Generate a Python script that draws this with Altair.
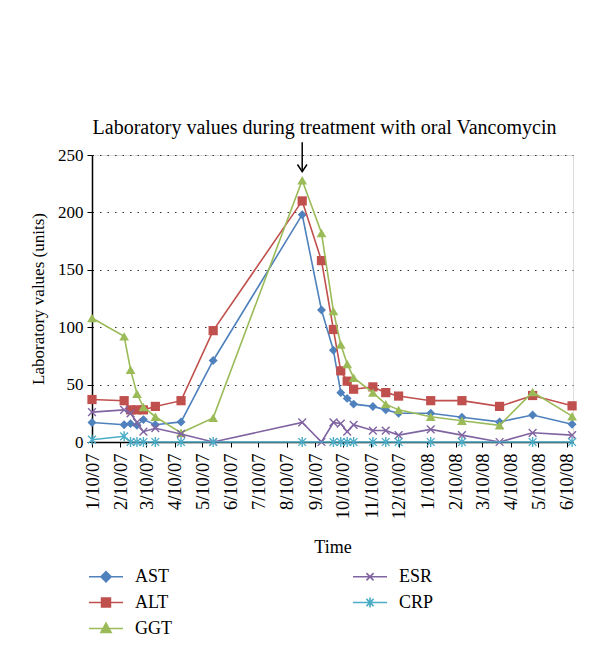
import altair as alt
import pandas as pd

# ---------------- data ----------------
dates = ["2007-01-10", "2007-02-14", "2007-02-21", "2007-02-28", "2007-03-07",
         "2007-03-20", "2007-04-17", "2007-05-22", "2007-08-27", "2007-09-17",
         "2007-09-30", "2007-10-08", "2007-10-15", "2007-10-22", "2007-11-12",
         "2007-11-26", "2007-12-10", "2008-01-14", "2008-02-17", "2008-03-29",
         "2008-05-04", "2008-06-16"]

ast = [17, 15, 16, 14.5, 19.5, 15, 17.5, 71, 198, 115, 80, 43, 38, 33, 31, 28, 25, 25, 21.5, 17.5, 23.5, 15.5]
alt_v = [37, 36, 28, 28, 28, 31, 36, 97, 210, 158, 98, 62, 53, 46, 48, 43, 40, 36, 36, 31, 40.5, 31.5]
ggt = [108, 92, 63, 42, 30.5, 22, 8, 21, 228, 182, 114, 85, 68, 56, 43, 33, 28, 22, 18.5, 14.5, 43.5, 22.5]
esr = [26, 28, 25, 17, 9, 12, 7, 0, 17, 0, 17, 16, 9, 15, 10, 10, 6, 11, 6, 0, 8, 6]
crp = [2, 5, 0, 0, 0, 0, 0, 0, 0, None, 0, 0, 0, 0, 0, 0, 0, 0, 0, None, 0, 0]

series_names = ["AST", "ALT", "GGT", "ESR", "CRP"]
series_values = [ast, alt_v, ggt, esr, crp]
series_colors = ["#4F81BD", "#C0504D", "#9BBB59", "#8064A2", "#4BACC6"]

y_ticks = [0, 50, 100, 150, 200, 250]
tick_months = [(2007, m) for m in range(1, 13)] + [(2008, m) for m in range(1, 7)]

title_text = "Laboratory values during treatment with oral Vancomycin"
arrow_date = ["2007-08-27"]
arrow_top = [261]
arrow_tip = [235.5]

# ---------------- styling ----------------
FONT = "Liberation Serif"
marker_shapes = {
    "AST": ("diamond", True, 80),
    "ALT": ("square", True, 85),
    "GGT": ("triangle-up", True, 95),
    "ESR": ("M-1,-1L1,1M-1,1L1,-1", False, 60),
    "CRP": ("M-1,-1L1,1M-1,1L1,-1M0,-1.3L0,1.3", False, 60),
}
legend_paths = [
    "M-2,0L2,0M-0.6,0L0,-0.6L0.6,0L0,0.6Z",
    "M-2,0L2,0M-0.52,-0.52L0.52,-0.52L0.52,0.52L-0.52,0.52Z",
    "M-2,0L2,0M0,-0.62L0.6,0.45L-0.6,0.45Z",
    "M-2,0L2,0M-0.42,-0.42L0.42,0.42M-0.42,0.42L0.42,-0.42",
    "M-2,0L2,0M-0.42,-0.42L0.42,0.42M-0.42,0.42L0.42,-0.42M0,-0.58L0,0.58",
]

rows = []
for name, vals in zip(series_names, series_values):
    for d, v in zip(dates, vals):
        if v is None:
            continue
        rows.append({"date": d, "series": name, "value": v})
df = pd.DataFrame(rows)

x_enc = alt.X(
    "date:T",
    title="Time",
    scale=alt.Scale(
        type="utc",
        domain=[alt.DateTime(year=2007, month=1, date=10, utc=True),
                alt.DateTime(year=2008, month=6, date=17, utc=True)],
    ),
    axis=alt.Axis(
        values=[alt.DateTime(year=y, month=m, date=10, utc=True) for y, m in tick_months],
        format="%-m/%d/%y",
        labelAngle=270,
        labelFont=FONT, labelFontSize=18.5, labelColor="#000",
        labelPadding=6, tickSize=5, tickColor="#000",
        domainColor="#000", domainWidth=1.5,
        titleFont=FONT, titleFontSize=18, titleFontWeight="normal",
        titleColor="#000", titlePadding=20,
        grid=False, labelOverlap=False, labelBound=False, labelFlush=False,
    ),
)
y_enc = alt.Y(
    "value:Q",
    title="Laboratory values (units)",
    scale=alt.Scale(domain=[0, 250], nice=False),
    axis=alt.Axis(
        values=y_ticks,
        labelFont=FONT, labelFontSize=17, labelColor="#000",
        labelPadding=4, tickSize=5, tickColor="#000",
        domainColor="#000", domainWidth=1.5,
        titleFont=FONT, titleFontSize=17, titleFontWeight="normal",
        titleColor="#000", titlePadding=10,
        grid=True, gridColor="#333", gridDash=[1.5, 6], gridWidth=1.2,
    ),
)

base = alt.Chart(df)
layers = []
for name, color in zip(series_names, series_colors):
    shp, filled, size = marker_shapes[name]
    sub = base.transform_filter(alt.datum.series == name)
    layers.append(sub.mark_line(color=color, strokeWidth=1.6).encode(x=x_enc, y=y_enc))
    if filled:
        layers.append(sub.mark_point(shape=shp, filled=True, color=color, size=size,
                                     opacity=1).encode(x=x_enc, y=y_enc))
    else:
        layers.append(sub.mark_point(shape=shp, filled=False, color=color, size=size,
                                     strokeWidth=1.4, opacity=1).encode(x=x_enc, y=y_enc))

# legend layer (no visible marks; only drives the legend)
leg = alt.Legend(
    title=None, orient="none", legendX=4.5, legendY=412, columns=2,
    columnPadding=177, rowPadding=7, symbolSize=289, symbolStrokeWidth=1.6,
    labelFont=FONT, labelFontSize=18, labelColor="#000", labelOffset=19.5,
    padding=0,
)
legend_layer = base.transform_filter("false").mark_point(filled=True, opacity=1).encode(
    x=x_enc, y=y_enc,
    color=alt.Color("series:N", scale=alt.Scale(domain=series_names, range=series_colors), legend=leg),
    stroke=alt.Stroke("series:N", scale=alt.Scale(domain=series_names, range=series_colors), legend=leg),
    shape=alt.Shape("series:N", scale=alt.Scale(domain=series_names, range=legend_paths), legend=leg),
)
layers.append(legend_layer)

# arrow annotation
arrow_df = pd.DataFrame({"date": arrow_date, "value": arrow_top, "tip": arrow_tip})
arrow_base = alt.Chart(arrow_df)
layers.append(arrow_base.mark_rule(color="#000", strokeWidth=1.5, clip=False).encode(
    x=x_enc, y=y_enc, y2="tip:Q"))
layers.append(arrow_base.mark_point(shape="M-1,-1.5L0,0L1,-1.5", filled=False, color="#000",
                                    size=90, strokeWidth=1.5, opacity=1, clip=False).encode(
    x=x_enc, y=alt.Y("tip:Q", title="Laboratory values (units)", scale=alt.Scale(domain=[0, 250], nice=False))))

chart = alt.layer(*layers).properties(
    width=481,
    height=287,
    title=alt.TitleParams(title_text, font=FONT, fontSize=20, fontWeight="normal",
                          color="#000", anchor="middle", offset=4, dx=-8),
    autosize=alt.AutoSizeParams(type="none"),
    padding={"left": 84, "top": 147, "right": 19, "bottom": 200},
).configure_view(stroke=None).configure(background="white")

chart.save("out.html", embed_options={"renderer": "svg", "actions": False})
